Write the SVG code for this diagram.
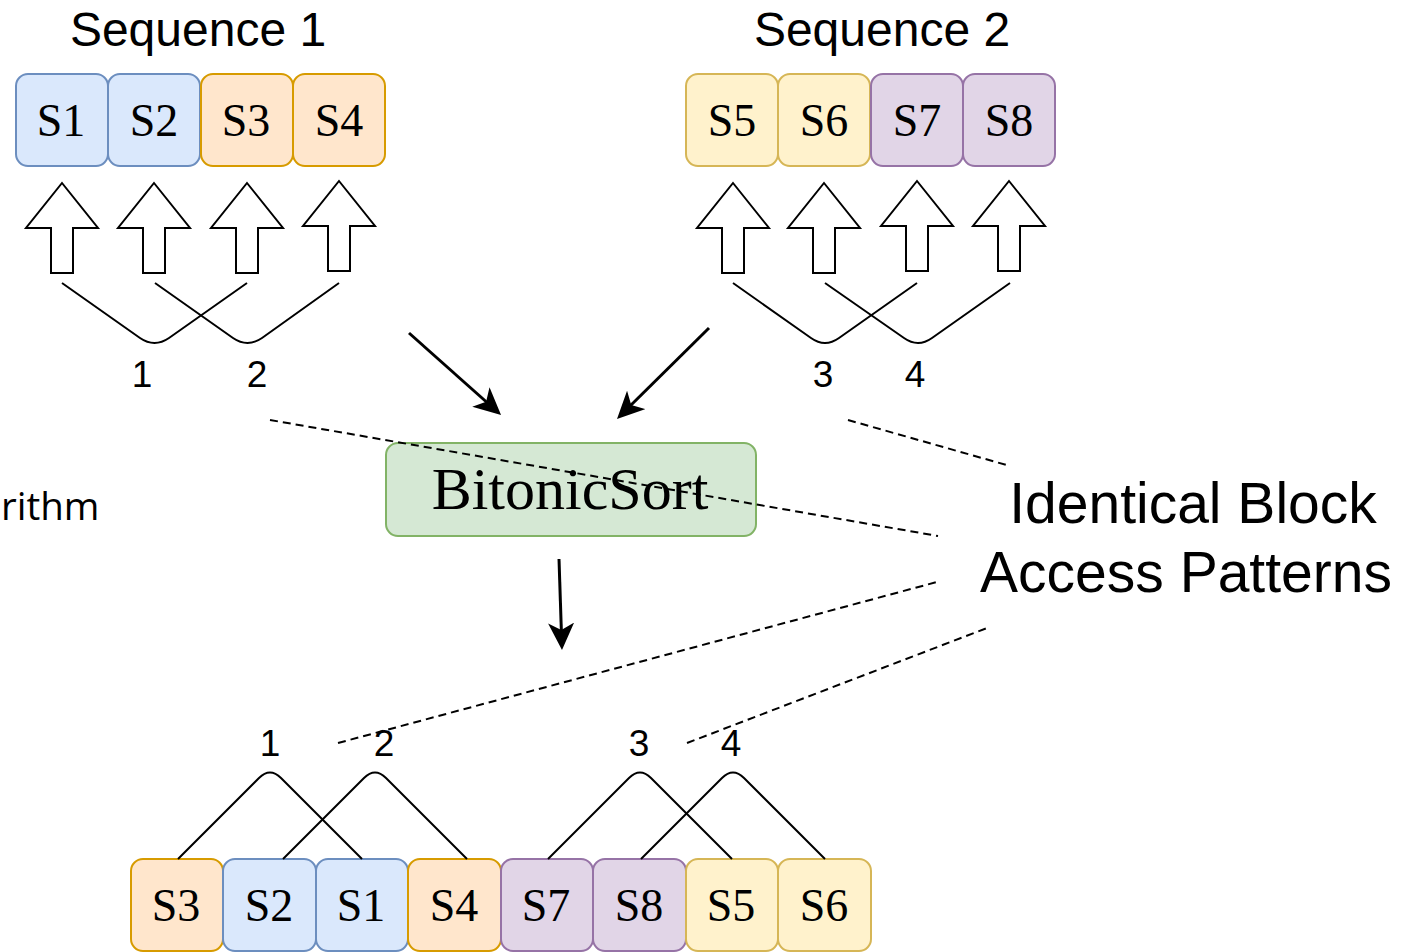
<svg xmlns="http://www.w3.org/2000/svg" width="1413" height="952" viewBox="0 0 1413 952">
  <style>
    .blk { stroke-width: 2; }
    .blue { fill: #dae8fc; stroke: #6c8ebf; }
    .orange { fill: #ffe6cc; stroke: #d79b00; }
    .yellow { fill: #fff2cc; stroke: #d6b656; }
    .purple { fill: #e1d5e7; stroke: #9673a6; }
    .green { fill: #d5e8d4; stroke: #82b366; stroke-width: 2; }
    .serif { font-family: "Liberation Serif", "Times New Roman", serif; fill: #000; text-anchor: middle; }
    .sans { font-family: "Liberation Sans", Arial, sans-serif; fill: #000; text-anchor: middle; }
    .slabel { font-size: 46px; }
    .num { font-size: 37px; }
    .hollow { fill: #fff; stroke: #000; stroke-width: 2; stroke-linejoin: miter; }
    .bracket { fill: none; stroke: #000; stroke-width: 2; }
    .flow { fill: none; stroke: #000; stroke-width: 3; }
    .dash { fill: none; stroke: #000; stroke-width: 2; stroke-dasharray: 8 5; }
  </style>
  <defs>
    <marker id="head" markerUnits="userSpaceOnUse" markerWidth="27" markerHeight="26" viewBox="0 0 27 26" refX="9" refY="13" orient="auto">
      <path d="M0,0 L27,13 L0,26 L7,13 Z" fill="#000"/>
    </marker>
    <polygon id="uparrow" points="0,0 36,45 11,45 11,90 -11,90 -11,45 -36,45"/>
  </defs>

  <rect width="1413" height="952" fill="#fff"/>

  <!-- headings -->
  <text class="sans" x="198" y="46" font-size="48">Sequence 1</text>
  <text class="sans" x="882" y="46" font-size="48">Sequence 2</text>
  <text x="1" y="520" font-family="'Open Sans', 'Liberation Sans', sans-serif" font-size="38.5">rithm</text>
  <g id="note">
    <text class="sans" x="1193" y="523" font-size="57">Identical Block</text>
    <text class="sans" x="1186" y="592" font-size="57">Access Patterns</text>
  </g>

  <!-- input blocks, sequence 1 -->
  <g id="s1-top"><rect class="blue blk" x="16" y="74" width="92" height="92" rx="12"/><text class="serif slabel" x="61" y="136">S1</text></g>
  <g id="s2-top"><rect class="blue blk" x="108" y="74" width="92" height="92" rx="12"/><text class="serif slabel" x="154" y="136">S2</text></g>
  <g id="s3-top"><rect class="orange blk" x="201" y="74" width="92" height="92" rx="12"/><text class="serif slabel" x="246" y="136">S3</text></g>
  <g id="s4-top"><rect class="orange blk" x="293" y="74" width="92" height="92" rx="12"/><text class="serif slabel" x="339" y="136">S4</text></g>

  <!-- input blocks, sequence 2 -->
  <g id="s5-top"><rect class="yellow blk" x="686" y="74" width="92" height="92" rx="12"/><text class="serif slabel" x="732" y="136">S5</text></g>
  <g id="s6-top"><rect class="yellow blk" x="778" y="74" width="92" height="92" rx="12"/><text class="serif slabel" x="824" y="136">S6</text></g>
  <g id="s7-top"><rect class="purple blk" x="871" y="74" width="92" height="92" rx="12"/><text class="serif slabel" x="917" y="136">S7</text></g>
  <g id="s8-top"><rect class="purple blk" x="963" y="74" width="92" height="92" rx="12"/><text class="serif slabel" x="1009" y="136">S8</text></g>

  <!-- access arrows -->
  <g id="access-arrows">
    <use href="#uparrow" class="hollow" x="62" y="183"/>
    <use href="#uparrow" class="hollow" x="154" y="183"/>
    <use href="#uparrow" class="hollow" x="247" y="183"/>
    <use href="#uparrow" class="hollow" x="339" y="181"/>
    <use href="#uparrow" class="hollow" x="733" y="183"/>
    <use href="#uparrow" class="hollow" x="824" y="183"/>
    <use href="#uparrow" class="hollow" x="917" y="181"/>
    <use href="#uparrow" class="hollow" x="1009" y="181"/>
  </g>

  <!-- pair brackets, top -->
  <g id="pairs-top">
    <path class="bracket" d="M62,283 L140,338 Q154.5,348 169,338 L247,283"/>
    <path class="bracket" d="M155,283 L233,338 Q247.5,348 262,338 L339,283"/>
    <path class="bracket" d="M733,283 L811,338 Q825,348 839,338 L917,283"/>
    <path class="bracket" d="M825,283 L904,338 Q918,348 932,338 L1010,283"/>
    <text class="sans num" x="142" y="387">1</text>
    <text class="sans num" x="257" y="387">2</text>
    <text class="sans num" x="823" y="387">3</text>
    <text class="sans num" x="915" y="387">4</text>
  </g>

  <!-- sorter -->
  <g id="bitonic">
    <rect class="green" x="386" y="443" width="370" height="93" rx="12"/>
    <text class="serif" x="570" y="509" font-size="60">BitonicSort</text>
  </g>

  <!-- output blocks -->
  <g id="s3-out"><rect class="orange blk" x="131" y="859" width="92" height="92" rx="12"/><text class="serif slabel" x="176" y="921">S3</text></g>
  <g id="s2-out"><rect class="blue blk" x="223" y="859" width="93" height="92" rx="12"/><text class="serif slabel" x="269" y="921">S2</text></g>
  <g id="s1-out"><rect class="blue blk" x="316" y="859" width="92" height="92" rx="12"/><text class="serif slabel" x="361" y="921">S1</text></g>
  <g id="s4-out"><rect class="orange blk" x="408" y="859" width="93" height="92" rx="12"/><text class="serif slabel" x="454" y="921">S4</text></g>
  <g id="s7-out"><rect class="purple blk" x="501" y="859" width="92" height="92" rx="12"/><text class="serif slabel" x="546" y="921">S7</text></g>
  <g id="s8-out"><rect class="purple blk" x="593" y="859" width="93" height="92" rx="12"/><text class="serif slabel" x="639" y="921">S8</text></g>
  <g id="s5-out"><rect class="yellow blk" x="686" y="859" width="92" height="92" rx="12"/><text class="serif slabel" x="731" y="921">S5</text></g>
  <g id="s6-out"><rect class="yellow blk" x="778" y="859" width="93" height="92" rx="12"/><text class="serif slabel" x="824" y="921">S6</text></g>

  <!-- pair brackets, bottom -->
  <g id="pairs-bottom">
    <path class="bracket" d="M178,859 L259,778 Q270,767 281,778 L362,859"/>
    <path class="bracket" d="M283,859 L364,778 Q375,767 386,778 L467,859"/>
    <path class="bracket" d="M548,859 L629,778 Q640,767 651,778 L732,859"/>
    <path class="bracket" d="M641,859 L722,778 Q733,767 744,778 L825,859"/>
    <text class="sans num" x="270" y="756">1</text>
    <text class="sans num" x="384" y="756">2</text>
    <text class="sans num" x="639" y="756">3</text>
    <text class="sans num" x="731" y="756">4</text>
  </g>

  <!-- connectors -->
  <g id="connectors">
    <line class="flow" x1="409" y1="333" x2="487.6" y2="403" marker-end="url(#head)"/>
    <line class="flow" x1="709" y1="328" x2="629.8" y2="406.3" marker-end="url(#head)"/>
    <line class="flow" x1="559" y1="559" x2="561.4" y2="632" marker-end="url(#head)"/>
    <line class="dash" x1="270" y1="420" x2="938" y2="536"/>
    <line class="dash" x1="848" y1="420" x2="1010" y2="466"/>
    <line class="dash" x1="338" y1="743" x2="937" y2="582"/>
    <line class="dash" x1="687" y1="743" x2="987" y2="628"/>
  </g>
</svg>
